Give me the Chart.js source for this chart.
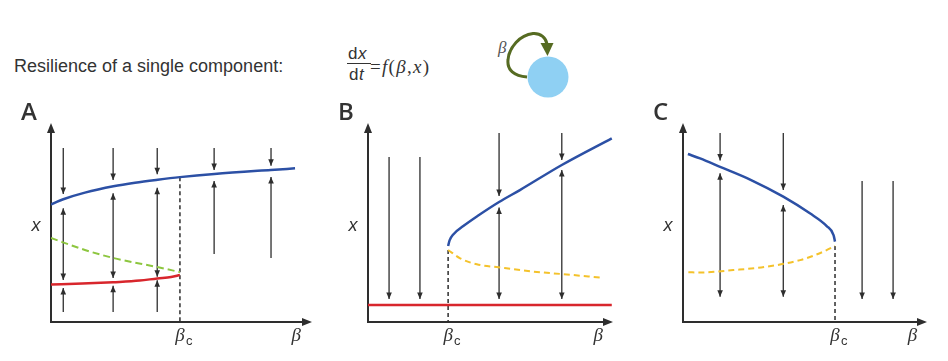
<!DOCTYPE html>
<html>
<head>
<meta charset="utf-8">
<title>Resilience of a single component</title>
<script src="https://cdn.jsdelivr.net/npm/chart.js@4/dist/chart.umd.min.js"></script>
<style>
  body { margin: 0; background: #fff; width: 948px; height: 361px; position: relative; overflow: hidden;
         font-family: "Liberation Sans", Arial, sans-serif; color: #333; }
  .abs { position: absolute; white-space: nowrap; line-height: 1; }
  .serif { font-family: "Liberation Serif", "Times New Roman", serif; }
  canvas { position: absolute; top: 95px; }
</style>
</head>
<body>
<div class="abs" style="left:14px; top:57px; font-size:18px;">Resilience of a single component:</div>
<div class="abs" style="left:348px; top:45px; font-size:17px; letter-spacing:0.5px;">d<i>x</i></div>
<div style="position:absolute; left:347px; top:63px; width:24px; height:1px; background:#333;"></div>
<div class="abs" style="left:349px; top:66px; font-size:17px; letter-spacing:0.5px;">d<i>t</i></div>
<div class="abs serif" style="left:370px; top:57px; font-size:19px; letter-spacing:1.3px;">=<i>f</i>(<i>β</i>,<i>x</i>)</div>
<svg style="position:absolute; left:0; top:0;" width="948" height="110">
  <circle cx="548" cy="77" r="20.5" fill="#8fd0f3"></circle>
  <path d="M527 77 C514 76, 507 70, 508 60 C509 47, 520 35, 533 33.5 C541 33, 546 38, 547 44" fill="none" stroke="#566b22" stroke-width="3"></path>
  <polygon points="540.5,43 553.5,43 547.5,56" fill="#566b22"></polygon>
  <text x="498" y="53" font-family="Liberation Serif" font-style="italic" font-size="17" fill="#555">β</text>
</svg>
<canvas id="panelA" width="316" height="266" style="left:0px;"></canvas>
<canvas id="panelB" width="318" height="266" style="left:316px;"></canvas>
<canvas id="panelC" width="314" height="266" style="left:634px;"></canvas>
<script>
'use strict';
// axis labels
const panelLetters = ['A', 'B', 'C'];
const xTickLabels = ['βc', 'β'];
const yAxisLabel = 'x';
const betaTick = 9.4;

// panel A: stable upper branch, unstable middle branch, stable lower branch up to beta_c
const aHighBeta = [0, 0.22, 0.47, 1.30, 2.39, 3.22, 4.09, 4.94, 6.26, 8.42, 9.35];
const aHighX = [5.90, 6.04, 6.17, 6.50, 6.82, 7.00, 7.15, 7.28, 7.44, 7.64, 7.72];
const aMidBeta = [0, 1.30, 2.38, 4.07, 4.94];
const aMidX = [4.22, 3.62, 3.22, 2.76, 2.51];
const aLowBeta = [0, 1.2, 2.38, 3.4, 4.07, 4.6, 4.94];
const aLowX = [1.88, 1.93, 2.0, 2.08, 2.19, 2.26, 2.36];
const aBetaC = 4.94;
const aArrowBeta = [0.47, 2.38, 4.07, 6.25, 8.43, 0.47, 2.38, 4.07, 6.25, 8.43];
const aArrowTail = [8.74, 8.74, 8.74, 8.74, 8.74, 0.50, 0.50, 0.50, 3.42, 3.22];
const aArrowTip = [6.43, 7.14, 7.42, 7.64, 7.85, 1.71, 1.82, 2.10, 7.09, 7.29];
const aDoubleBeta = [0.47, 2.38, 4.07];
const aDoubleLow = [2.11, 2.21, 2.28];
const aDoubleHigh = [5.71, 6.47, 6.75];

// panel B
const bHighBeta = [3.27, 3.33, 3.48, 3.89, 4.50, 5.35, 6.20, 7.91, 9.95];
const bHighX = [3.82, 4.10, 4.40, 4.82, 5.35, 6.03, 6.63, 7.89, 9.23];
const bMidBeta = [3.27, 3.76, 4.44, 5.32, 6.75, 7.91, 9.54];
const bMidX = [3.62, 3.20, 2.90, 2.75, 2.53, 2.41, 2.23];
const bLowBeta = [0, 9.95];
const bLowX = [0.85, 0.85];
const bBetaC = 3.27;
const bArrowBeta = [0.86, 2.12, 5.35, 7.91];
const bArrowTail = [8.29, 8.29, 9.50, 9.50];
const bArrowTip = [1.16, 1.16, 6.33, 8.14];
const bDoubleBeta = [5.35, 7.91];
const bDoubleLow = [1.16, 1.16];
const bDoubleHigh = [5.76, 7.64];

// panel C
const cHighBeta = [0.20, 0.70, 1.52, 2.75, 4.11, 5.20, 5.89, 6.17, 6.23];
const cHighX = [8.44, 8.22, 7.80, 7.16, 6.30, 5.46, 4.82, 4.37, 4.04];
const cMidBeta = [0.22, 0.70, 2.06, 3.43, 4.80, 5.75, 6.23];
const cMidX = [2.50, 2.49, 2.61, 2.78, 3.11, 3.53, 3.82];
const cBetaC = 6.23;
const cArrowBeta = [1.52, 4.11, 7.34, 8.61];
const cArrowTail = [9.50, 9.50, 7.09, 7.09];
const cArrowTip = [8.11, 6.63, 1.16, 1.16];
const cDoubleBeta = [1.52, 4.11];
const cDoubleLow = [1.27, 1.27];
const cDoubleHigh = [7.47, 5.88];

const BLUE = '#2c50a5';
const RED = '#d8262c';
const GREEN = '#8dc63f';
const YELLOW = '#f4c22b';
const INK = '#2e2e2e';

function pts(xs, ys) {
  return xs.map((b, i) => ({x: b, y: ys[i]}));
}

function curve(xs, ys, color, dash) {
  return {
    data: pts(xs, ys),
    borderColor: color,
    borderWidth: dash ? 2 : 2.5,
    borderDash: dash || [],
    cubicInterpolationMode: 'monotone',
    pointRadius: 0
  };
}

function arrows(beta, from, to, heads) {
  return beta.map((b, i) => ({
    data: [{x: b, y: from[i]}, {x: b, y: to[i]}],
    borderColor: INK,
    borderWidth: 1.3,
    pointRadius: 0,
    heads: heads
  }));
}

function criticalLine(bc, top) {
  return {
    data: [{x: bc, y: top}, {x: bc, y: 0}],
    borderColor: INK,
    borderWidth: 1.5,
    borderDash: [4, 3],
    pointRadius: 0
  };
}

function head(ctx, from, tip, len, half, color) {
  const dx = tip.x - from.x;
  const dy = tip.y - from.y;
  const d = Math.hypot(dx, dy) || 1;
  const ux = dx / d, uy = dy / d;
  ctx.save();
  ctx.fillStyle = color;
  ctx.beginPath();
  ctx.moveTo(tip.x, tip.y);
  ctx.lineTo(tip.x - ux * len - uy * half, tip.y - uy * len + ux * half);
  ctx.lineTo(tip.x - ux * len + uy * half, tip.y - uy * len - ux * half);
  ctx.closePath();
  ctx.fill();
  ctx.restore();
}

const arrowHeads = {
  id: 'arrowHeads',
  afterDatasetsDraw(chart) {
    const ctx = chart.ctx;
    chart.data.datasets.forEach((ds, i) => {
      if (!ds.heads) return;
      const p = chart.getDatasetMeta(i).data;
      head(ctx, p[0], p[1], 6.5, 2.8, INK);
      if (ds.heads === 'both') head(ctx, p[1], p[0], 6.5, 2.8, INK);
    });
  }
};

const axesAndLabels = {
  id: 'axesAndLabels',
  beforeDatasetsDraw(chart, args, opts) {
    const ctx = chart.ctx;
    const {left, right, top, bottom} = chart.chartArea;
    const xs = chart.scales.x, ys = chart.scales.y;
    ctx.save();
    ctx.strokeStyle = INK;
    ctx.lineWidth = 2;
    ctx.beginPath();
    ctx.moveTo(left, bottom + 1);
    ctx.lineTo(left, top + 6);
    ctx.moveTo(left - 1, bottom);
    ctx.lineTo(right - 6, bottom);
    ctx.stroke();
    head(ctx, {x: left, y: bottom}, {x: left, y: top}, 10, 4, INK);
    head(ctx, {x: left, y: bottom}, {x: right, y: bottom}, 10, 4, INK);

    ctx.fillStyle = '#333';
    // panel letter
    ctx.font = '600 24px "Open Sans"';
    ctx.textAlign = 'left';
    ctx.textBaseline = 'alphabetic';
    ctx.fillText(opts.letter, left - 30, top - 3);

    // x tick labels: beta_c and beta
    const tickVals = [opts.betaC, betaTick];
    tickVals.forEach((v, i) => {
      const px = xs.getPixelForValue(v);
      const lab = xTickLabels[i];
      ctx.font = 'italic 19px "Liberation Serif"';
      ctx.textAlign = 'center';
      ctx.fillText(lab[0], px, bottom + 19);
      if (lab.length > 1) {
        ctx.font = '13px "Liberation Sans"';
        ctx.textAlign = 'left';
        ctx.fillText(lab.slice(1), px + 6, bottom + 23);
      }
    });

    // y label
    ctx.font = 'italic 18px "Liberation Sans"';
    ctx.textAlign = 'center';
    ctx.textBaseline = 'middle';
    ctx.fillText(yAxisLabel, left - 15, ys.getPixelForValue(4.8));
    ctx.restore();
  }
};

function makePanel(id, letter, betaC, padding, datasets) {
  return new Chart(document.getElementById(id), {
    type: 'line',
    data: {datasets: datasets},
    options: {
      responsive: false,
      animation: false,
      devicePixelRatio: 1,
      events: [],
      layout: {padding: padding},
      scales: {
        x: {type: 'linear', min: 0, max: 10, display: false},
        y: {type: 'linear', min: 0, max: 10, display: false}
      },
      plugins: {
        legend: {display: false},
        tooltip: {enabled: false},
        axesAndLabels: {letter: letter, betaC: betaC}
      }
    },
    plugins: [axesAndLabels, arrowHeads]
  });
}

makePanel('panelA', panelLetters[0], aBetaC, {left: 51, top: 28, right: 4, bottom: 39}, [
  curve(aHighBeta, aHighX, BLUE),
  curve(aLowBeta, aLowX, RED),
  curve(aMidBeta, aMidX, GREEN, [7, 4]),
  criticalLine(aBetaC, 7.28),
  ...arrows(aArrowBeta, aArrowTail, aArrowTip, 'end'),
  ...arrows(aDoubleBeta, aDoubleLow, aDoubleHigh, 'both')
]);

makePanel('panelB', panelLetters[1], bBetaC, {left: 52, top: 28, right: 21, bottom: 39}, [
  curve(bHighBeta, bHighX, BLUE),
  curve(bLowBeta, bLowX, RED),
  curve(bMidBeta, bMidX, YELLOW, [6, 4]),
  criticalLine(bBetaC, 3.62),
  ...arrows(bArrowBeta, bArrowTail, bArrowTip, 'end'),
  ...arrows(bDoubleBeta, bDoubleLow, bDoubleHigh, 'both')
]);

makePanel('panelC', panelLetters[2], cBetaC, {left: 49, top: 28, right: 21, bottom: 39}, [
  curve(cHighBeta, cHighX, BLUE),
  curve(cMidBeta, cMidX, YELLOW, [6, 4]),
  criticalLine(cBetaC, 3.82),
  ...arrows(cArrowBeta, cArrowTail, cArrowTip, 'end'),
  ...arrows(cDoubleBeta, cDoubleLow, cDoubleHigh, 'both')
]);
</script>
</body>
</html>
